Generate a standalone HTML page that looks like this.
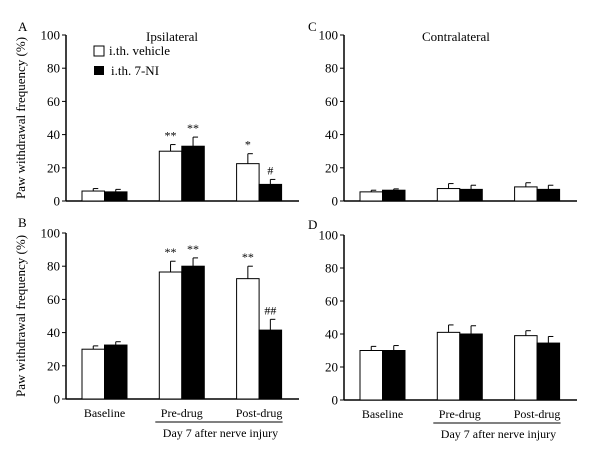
<!DOCTYPE html>
<html><head><meta charset="utf-8"><style>
body{margin:0;background:#fff;width:600px;height:469px;overflow:hidden}
svg text{font-family:"Liberation Serif","Times New Roman",serif;fill:#000}
</style></head><body>
<svg id="chart" width="600" height="469" font-family="Liberation Serif, serif"></svg>
<script>
const categories=["Baseline","Pre-drug","Post-drug"];
const vehA=[6,30,22.5], vehAErr=[1.5,4,6], niA=[5.5,33,10], niAErr=[1.5,5.5,3];
const vehB=[30,76.5,72.5], vehBErr=[2,6.5,7.5], niB=[32.5,80,41.5], niBErr=[2,5,6.5];
const vehC=[5.5,7.5,8.5], vehCErr=[1,3,2.5], niC=[6.5,7,7], niCErr=[0.8,2.5,2.5];
const vehD=[30,41,39], vehDErr=[2.5,4.5,3], niD=[30,40,34.5], niDErr=[3,5,4];
const yTicks=[0,20,40,60,80,100];
const sigA=[["",""],["**","**"],["*","#"]];
const sigB=[["",""],["**","**"],["**","##"]];
const NS="http://www.w3.org/2000/svg";
const svg=document.getElementById('chart');
function mk(t,a,p){const e=document.createElementNS(NS,t);for(const k in a)e.setAttribute(k,a[k]);if(t==='text')e.setAttribute('font-family','Liberation Serif, serif');(p||svg).appendChild(e);return e;}
function panel(id,ax,top,bot,veh,vehE,ni,niE,sig,letter,title,showX,yTitle){
  const g=mk('g',{});
  
  
  const y=v=>bot-(bot-top)*v/100;
  const x0=c=>ax+16+c*77.3;
  const bw=22.5;
  const yl=mk('line',{x1:ax,y1:top,x2:ax,y2:bot,stroke:'#000','stroke-width':1.5},g);
  
  const xl=mk('line',{x1:ax,y1:bot,x2:ax+233,y2:bot,stroke:'#000','stroke-width':1.5},g);
  
  yTicks.forEach(t=>{
    mk('line',{x1:ax-4,y1:y(t),x2:ax,y2:y(t),stroke:'#000'},g);
    const tx=mk('text',{x:ax-6,y:y(t)+4.5,'text-anchor':'end','font-size':13},g);
    tx.textContent=t;
    
  });
  const right=(letter==='C'||letter==='D');
  const L=mk('text',{x:ax-(right?36:48),y:top-6+(letter==='B'||letter==='D'?0:2),'font-size':13},g);
  L.textContent=letter;
  if(title){const T=mk('text',{x:ax+(letter==='A'?80:78),y:top+6,'font-size':13},g);T.textContent=title;
    }
  if(yTitle){const t=mk('text',{x:0,y:0,'font-size':13,'text-anchor':'middle',transform:`translate(25,${(top+bot)/2}) rotate(-90)`},g);
    t.textContent='Paw withdrawal frequency (%)';}
  categories.forEach((c,i)=>{
    [[veh,vehE,'#fff','vehicle'],[ni,niE,'#000','7ni']].forEach((s,j)=>{
      const bx=x0(i)+j*bw, v=s[0][i], e=s[1][i];
      const et=y(v+e);
      mk('line',{x1:bx+bw/2,y1:y(v),x2:bx+bw/2,y2:et,stroke:'#000'},g);
      mk('line',{x1:bx+bw/2,y1:et,x2:bx+bw/2+5,y2:et,stroke:'#000'},g);
      const r=mk('rect',{x:bx,y:y(v),width:bw,height:bot-y(v),fill:s[2],stroke:'#000','stroke-width':1},g);
      
      
      if(sig&&sig[i][j]){const st=mk('text',{x:bx+bw/2,y:et-5,'text-anchor':'middle','font-size':12,fill:'#333'},g);
        st.textContent=sig[i][j];}
    });
    if(showX){const t=mk('text',{x:x0(i)+bw,y:bot+18,'text-anchor':'middle','font-size':12},g);
      t.textContent=c;}
  });
  if(showX){
    mk('line',{x1:x0(1)-4,y1:bot+23,x2:x0(2)+2*bw+1,y2:bot+23,stroke:'#000'},g);
    const d=mk('text',{x:(x0(1)+x0(2)+2*bw)/2,y:bot+38,'text-anchor':'middle','font-size':12},g);
    d.textContent='Day 7 after nerve injury';
  }
}
panel('a',66,35,201,vehA,vehAErr,niA,niAErr,sigA,'A','Ipsilateral',false,true);
panel('b',66,233,399,vehB,vehBErr,niB,niBErr,sigB,'B','',true,true);
panel('c',344,35,201,vehC,vehCErr,niC,niCErr,null,'C','Contralateral',false,false);
panel('d',344,235,400,vehD,vehDErr,niD,niDErr,null,'D','',true,false);
const lg=mk('g',{});


const r1=mk('rect',{x:94,y:46,width:10,height:10,fill:'#fff',stroke:'#000'},lg);

const t1=mk('text',{x:109,y:55,'font-size':13},lg);t1.textContent='i.th. vehicle';

const r2=mk('rect',{x:94,y:66,width:10,height:9,fill:'#000'},lg);

const t2=mk('text',{x:111,y:75,'font-size':13},lg);t2.textContent='i.th. 7-NI';

</script>
</body></html>
